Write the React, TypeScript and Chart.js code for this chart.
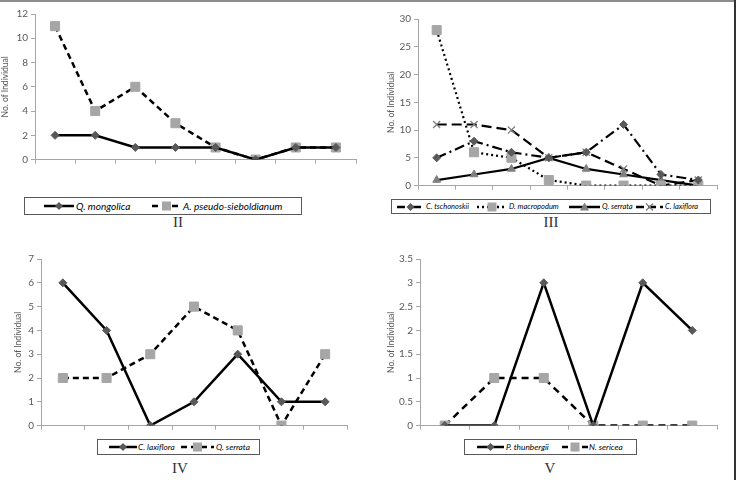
import React, { useEffect, useRef } from "react";
import { Chart, registerables } from "chart.js";
Chart.register(...registerables);

// ---------- DATA ----------
const classesII = ["1", "2", "3", "4", "5", "6", "7", "8"];
const qMongolicaII = [2, 2, 1, 1, 1, 0, 1, 1];
const aPseudoII = [11, 4, 6, 3, 1, 0, 1, 1];
const yRangeII = [0, 12, 2];

const classesIII = ["1", "2", "3", "4", "5", "6", "7", "8"];
const cTschonoskiiIII = [5, 8, 6, 5, 6, 11, 2, 1];
const dMacropodumIII = [28, 6, 5, 1, 0, 0, 0, 0];
const qSerrataIII = [1, 2, 3, 5, 3, 2, 1, 0];
const cLaxifloraIII = [11, 11, 10, 5, 6, 3, 0, 1];
const yRangeIII = [0, 30, 5];

const classesIV = ["1", "2", "3", "4", "5", "6", "7"];
const cLaxifloraIV = [6, 4, 0, 1, 3, 1, 1];
const qSerrataIV = [2, 2, 3, 5, 4, 0, 3];
const yRangeIV = [0, 7, 1];

const classesV = ["1", "2", "3", "4", "5", "6"];
const pThunbergiiV = [0, 0, 3, 0, 3, 2];
const nSericeaV = [0, 1, 1, 0, 0, 0];
const yRangeV = [0, 3.5, 0.5];

const yTitle = "No. of Individual";

// ---------- STYLE ----------
const AXIS = "#a6a6a6";
const TICK_TXT = "#595959";
const FONT = "Lato, 'Open Sans', sans-serif";
const DIAMOND = "#595959";
const SQUARE = "#a6a6a6";
const TRI = "#7f7f7f";
const CROSS = "#7f7f7f";

type Marker = "diamond" | "square" | "triangle" | "cross";
const markerStyle: Record<Marker, any> = {
  diamond: { pointStyle: "rectRot", pointRadius: 4, color: DIAMOND },
  square: { pointStyle: "rect", pointRadius: 6.4, color: SQUARE },
  triangle: { pointStyle: "triangle", pointRadius: 4.5, color: TRI },
  cross: { pointStyle: "crossRot", pointRadius: 5, color: CROSS },
};

type Series = { label: string; data: number[]; marker: Marker; dash: number[]; width?: number };

function mkDataset(s: Series) {
  const m = markerStyle[s.marker];
  return {
    label: s.label,
    data: s.data,
    borderColor: "#000",
    borderWidth: s.width ?? 2.5,
    borderDash: s.dash,
    tension: 0,
    fill: false,
    pointStyle: m.pointStyle,
    pointRadius: m.pointRadius,
    pointBackgroundColor: m.color,
    pointBorderColor: m.color,
    pointBorderWidth: s.marker === "cross" ? 1.3 : 1,
  };
}

type PanelProps = {
  left: number;
  top: number;
  width: number;
  height: number;
  padTop: number;
  padRight: number;
  yWidth: number;
  labels: string[];
  series: Series[];
  yRange: number[];
};

function Panel(p: PanelProps) {
  const ref = useRef<HTMLCanvasElement | null>(null);
  useEffect(() => {
    if (!ref.current) return;
    const chart = new Chart(ref.current, {
      type: "line",
      data: { labels: p.labels, datasets: p.series.map(mkDataset) as any },
      options: {
        responsive: false,
        animation: false,
        events: [],
        layout: { padding: { top: p.padTop, right: p.padRight, left: 0, bottom: 0 } },
        plugins: { legend: { display: false }, tooltip: { enabled: false } },
        scales: {
          x: {
            type: "category",
            offset: true,
            grid: { offset: true, drawOnChartArea: false, drawTicks: true, tickLength: 4, color: AXIS },
            border: { color: AXIS, width: 1 },
            ticks: { display: false },
            afterFit: (s: any) => {
              s.height = 6;
              s.paddingLeft = 0;
              s.paddingRight = 0;
              s.paddingTop = 0;
              s.paddingBottom = 0;
            },
          },
          y: {
            min: p.yRange[0],
            max: p.yRange[1],
            ticks: {
              stepSize: p.yRange[2],
              color: TICK_TXT,
              font: { family: FONT, size: 10 },
              padding: 3,
              callback: (v: any) => String(Math.round(Number(v) * 100) / 100),
            },
            grid: { drawOnChartArea: false, tickLength: 4, color: AXIS },
            border: { color: AXIS, width: 1 },
            title: {
              display: true,
              text: yTitle,
              color: TICK_TXT,
              font: { family: FONT, size: 8.5 },
              padding: { top: 0, bottom: 0 },
            },
            afterFit: (s: any) => {
              s.width = p.yWidth;
              s.paddingTop = 0;
              s.paddingBottom = 0;
              s.paddingLeft = 0;
              s.paddingRight = 0;
            },
          },
        },
      } as any,
    });
    return () => chart.destroy();
  }, []);
  return (
    <canvas
      ref={ref}
      width={p.width}
      height={p.height}
      style={{ position: "absolute", left: p.left, top: p.top, width: p.width, height: p.height }}
    />
  );
}

function Sample({ w, dash, marker }: { w: number; dash: number[]; marker: Marker }) {
  const m = markerStyle[marker];
  const cx = w / 2;
  const cy = 6;
  let shape: any = null;
  if (marker === "diamond") {
    shape = <polygon points={`${cx},${cy - 4} ${cx + 4},${cy} ${cx},${cy + 4} ${cx - 4},${cy}`} fill={m.color} />;
  } else if (marker === "square") {
    shape = <rect x={cx - 4.5} y={cy - 4.5} width={9} height={9} fill={m.color} />;
  } else if (marker === "triangle") {
    shape = <polygon points={`${cx},${cy - 4.5} ${cx + 4.5},${cy + 3.5} ${cx - 4.5},${cy + 3.5}`} fill={m.color} />;
  } else {
    shape = (
      <g stroke={m.color} strokeWidth={1.3}>
        <line x1={cx - 3.5} y1={cy - 3.5} x2={cx + 3.5} y2={cy + 3.5} />
        <line x1={cx - 3.5} y1={cy + 3.5} x2={cx + 3.5} y2={cy - 3.5} />
      </g>
    );
  }
  return (
    <svg width={w} height={12} style={{ position: "absolute", top: "50%", marginTop: -6 }}>
      <line x1={0} y1={cy} x2={w} y2={cy} stroke="#000" strokeWidth={2.5} strokeDasharray={dash.length ? dash.join(",") : undefined} />
      {shape}
    </svg>
  );
}

type LegendItem = { sx: number; sw: number; tx: number; label: string; dash: number[]; marker: Marker };

function Legend({ left, top, width, height, items, fontSize }: { left: number; top: number; width: number; height: number; items: LegendItem[]; fontSize: number }) {
  return (
    <div
      style={{
        position: "absolute",
        left,
        top,
        width,
        height,
        boxSizing: "border-box",
        border: "1px solid #595959",
        background: "#fff",
      }}
    >
      {items.map((it, i) => (
        <React.Fragment key={i}>
          <div style={{ position: "absolute", left: it.sx - left, top: 0, height: "100%" }}>
            <Sample w={it.sw} dash={it.dash} marker={it.marker} />
          </div>
          <span
            style={{
              position: "absolute",
              left: it.tx - left,
              top: 0,
              lineHeight: height - 2 + "px",
              fontFamily: FONT,
              fontStyle: "italic",
              fontSize,
              color: "#000",
              whiteSpace: "nowrap",
            }}
          >
            {it.label}
          </span>
        </React.Fragment>
      ))}
    </div>
  );
}

function Roman({ x, y, text }: { x: number; y: number; text: string }) {
  return (
    <div
      style={{
        position: "absolute",
        left: x - 30,
        top: y - 10,
        width: 60,
        height: 20,
        lineHeight: "20px",
        textAlign: "center",
        fontFamily: "'Liberation Serif', 'DejaVu Serif', serif",
        fontSize: 15,
        color: "#333",
      }}
    >
      {text}
    </div>
  );
}

const seriesII: Series[] = [
  { label: "Q. mongolica", data: qMongolicaII, marker: "diamond", dash: [] },
  { label: "A. pseudo-sieboldianum", data: aPseudoII, marker: "square", dash: [6, 4] },
];
const seriesIII: Series[] = [
  { label: "C. tschonoskii", data: cTschonoskiiIII, marker: "diamond", dash: [10, 4, 2, 4], width: 2.2 },
  { label: "D. macropodum", data: dMacropodumIII, marker: "square", dash: [2, 3], width: 2.2 },
  { label: "Q. serrata", data: qSerrataIII, marker: "triangle", dash: [], width: 2.2 },
  { label: "C. laxiflora", data: cLaxifloraIII, marker: "cross", dash: [10, 5], width: 2.2 },
];
const seriesIV: Series[] = [
  { label: "C. laxiflora", data: cLaxifloraIV, marker: "diamond", dash: [] },
  { label: "Q. serrata", data: qSerrataIV, marker: "square", dash: [6, 4] },
];
const seriesV: Series[] = [
  { label: "P. thunbergii", data: pThunbergiiV, marker: "diamond", dash: [] },
  { label: "N. sericea", data: nSericeaV, marker: "square", dash: [7, 5] },
];

export default function App() {
  return (
    <div style={{ position: "fixed", left: 0, top: 0, width: 736, height: 480, background: "#fff", overflow: "hidden" }}>
      {/* frame */}
      <div style={{ position: "absolute", left: 0, top: 0, width: 736, height: 2, background: "#8c8c8c" }} />
      <div style={{ position: "absolute", left: 734, top: 0, width: 1.5, height: 480, background: "#333" }} />

      <Panel left={0} top={0} width={368} height={167} padTop={14} padRight={12} yWidth={35} labels={classesII} series={seriesII} yRange={yRangeII} />
      <Panel left={386} top={0} width={350} height={193} padTop={19} padRight={19} yWidth={32} labels={classesIII} series={seriesIII} yRange={yRangeIII} />
      <Panel left={13} top={240} width={355} height={193} padTop={19} padRight={21} yWidth={28} labels={classesIV} series={seriesIV} yRange={yRangeIV} />
      <Panel left={386} top={240} width={350} height={193} padTop={19} padRight={19} yWidth={34} labels={classesV} series={seriesV} yRange={yRangeV} />

      <Legend
        left={24}
        top={197}
        width={278}
        height={18}
        fontSize={10}
        items={[
          { sx: 43, sw: 30, tx: 75, label: seriesII[0].label, dash: seriesII[0].dash, marker: "diamond" },
          { sx: 151, sw: 29, tx: 182, label: seriesII[1].label, dash: seriesII[1].dash, marker: "square" },
        ]}
      />
      <Legend
        left={391}
        top={199}
        width={320}
        height={15}
        fontSize={7.5}
        items={[
          { sx: 396, sw: 27, tx: 425, label: seriesIII[0].label, dash: [8, 3, 2, 3], marker: "diamond" },
          { sx: 476, sw: 30, tx: 508, label: seriesIII[1].label, dash: [2, 3], marker: "square" },
          { sx: 568, sw: 31, tx: 601, label: seriesIII[2].label, dash: [], marker: "triangle" },
          { sx: 635, sw: 27, tx: 664, label: seriesIII[3].label, dash: [8, 4], marker: "cross" },
        ]}
      />
      <Legend
        left={97}
        top={439}
        width={163}
        height={16}
        fontSize={8.3}
        items={[
          { sx: 108, sw: 28, tx: 137, label: seriesIV[0].label, dash: [], marker: "diamond" },
          { sx: 180, sw: 33, tx: 215, label: seriesIV[1].label, dash: [6, 4], marker: "square" },
        ]}
      />
      <Legend
        left={464}
        top={439}
        width={173}
        height={16}
        fontSize={8.3}
        items={[
          { sx: 476, sw: 27, tx: 505, label: seriesV[0].label, dash: [], marker: "diamond" },
          { sx: 561, sw: 26, tx: 588, label: seriesV[1].label, dash: [6, 4], marker: "square" },
        ]}
      />

      <Roman x={178} y={222} text="II" />
      <Roman x={551} y={222} text="III" />
      <Roman x={180} y={468} text="IV" />
      <Roman x={550} y={468} text="V" />
    </div>
  );
}
